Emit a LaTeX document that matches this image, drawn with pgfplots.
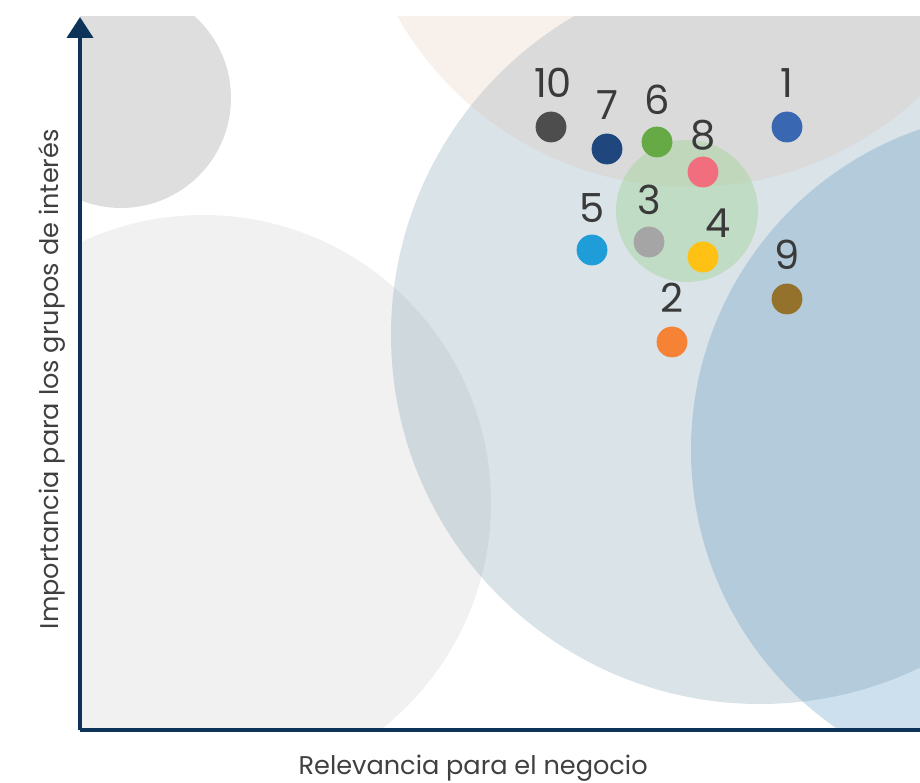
\documentclass[border=0pt]{standalone}
\usepackage{pgfplots}
\pgfplotsset{compat=1.18}
\usetikzlibrary{arrows.meta}
\usepackage{fontspec}
\setmainfont{Poppins}

\definecolor{axisnavy}{HTML}{0E3358}
\definecolor{labeltxt}{HTML}{404040}
\definecolor{numtxt}{HTML}{3A3A3A}
% background bubbles
\definecolor{bgA}{HTML}{DEDEDE}
\definecolor{bgB}{HTML}{F1F1F1}
\definecolor{bgC}{RGB}{103,143,163}
\definecolor{bgD}{HTML}{CDE0EE}
\definecolor{bgE}{RGB}{219,187,164}
\definecolor{bgG}{RGB}{162,211,150}
% topics
\definecolor{c1}{HTML}{3A67B1}
\definecolor{c2}{HTML}{F58235}
\definecolor{c3}{HTML}{A5A5A5}
\definecolor{c4}{HTML}{FFC114}
\definecolor{c5}{HTML}{1F9DD9}
\definecolor{c6}{HTML}{65AA45}
\definecolor{c7}{HTML}{1F467D}
\definecolor{c8}{HTML}{F06E7E}
\definecolor{c9}{HTML}{94722C}
\definecolor{c10}{HTML}{4D4D4D}

% 1 unit = 0.5pt, so bubble radius r -> mark size r/2 pt
\pgfplotsset{
  bubble/.style n args={3}{only marks, mark=*, mark size=#2,
    mark options={draw opacity=0, fill=#1, fill opacity=#3}},
  % bubbles whose centre lies outside the axis limits
  farbubble/.style n args={3}{draw=none, mark=none,
    every node/.append style={circle, inner sep=0pt, draw=none, fill=#1,
      fill opacity=#3, minimum size=#2}},
  topic/.style n args={4}{only marks, mark=*, mark size=7.5pt,
    color=#1, mark options={draw=#1, fill=#1},
    nodes near coords={#2},
    nodes near coords style={anchor=center, text=numtxt, font=\fontsize{20}{20}\selectfont, xshift=#3, yshift=#4}},
}

\begin{document}
\begin{tikzpicture}
\begin{axis}[
  scale only axis,
  width=420pt, height=356.5pt,
  xmin=0, xmax=840, ymin=0, ymax=713,
  axis x line=bottom, axis y line=left,
  axis line style={axisnavy, line width=2pt},
  x axis line style={-},
  y axis line style={-{Triangle[width=13pt,length=10.5pt]}},
  xtick=\empty, ytick=\empty,
  axis on top,
  clip marker paths=true,
  xlabel={Relevancia para el negocio},
  ylabel={Importancia para los grupos de interés},
  label style={font=\fontsize{12.8}{15}\selectfont, text=labeltxt},
  xlabel style={at={(axis description cs:0.468,-0.0617)}, anchor=base},
  ylabel style={at={(axis description cs:-0.0258,0.492)}, anchor=base},
]
% background bubbles
\addplot[bubble={bgB}{144pt}{1}]   coordinates {(123,227)};
\addplot[bubble={bgA}{55pt}{1}]    coordinates {(41,632)};
\addplot[farbubble={bgD}{339pt}{1}] coordinates {(950,280)} node {};
\addplot[bubble={bgC}{184.5pt}{0.25}] coordinates {(680,395)};
\addplot[farbubble={bgE}{336pt}{0.22}] coordinates {(610,879)} node {};
\addplot[bubble={bgG}{35.5pt}{0.44}]  coordinates {(607,519)};
% topics
\addplot[topic={c1}{1}{0pt}{22pt}]    coordinates {(707,603)};
\addplot[topic={c2}{2}{0pt}{22pt}]    coordinates {(592,388)};
\addplot[topic={c3}{3}{0pt}{21pt}]    coordinates {(569,488)};
\addplot[topic={c4}{4}{7.5pt}{17pt}]  coordinates {(623,473)};
\addplot[topic={c5}{5}{0pt}{21pt}]    coordinates {(512,480)};
\addplot[topic={c6}{6}{0pt}{21pt}]    coordinates {(577,588)};
\addplot[topic={c7}{7}{0pt}{22pt}]    coordinates {(527,581)};
\addplot[topic={c8}{8}{0pt}{18.5pt}]  coordinates {(623,558)};
\addplot[topic={c9}{9}{0pt}{22pt}]    coordinates {(707,431)};
\addplot[topic={c10}{10}{1pt}{22pt}]  coordinates {(471,603)};
\end{axis}
\pgfresetboundingbox
\path[use as bounding box] ([xshift=-40pt,yshift=-26pt]current axis.south west) rectangle ([yshift=8.5pt]current axis.north east);
\end{tikzpicture}
\end{document}
